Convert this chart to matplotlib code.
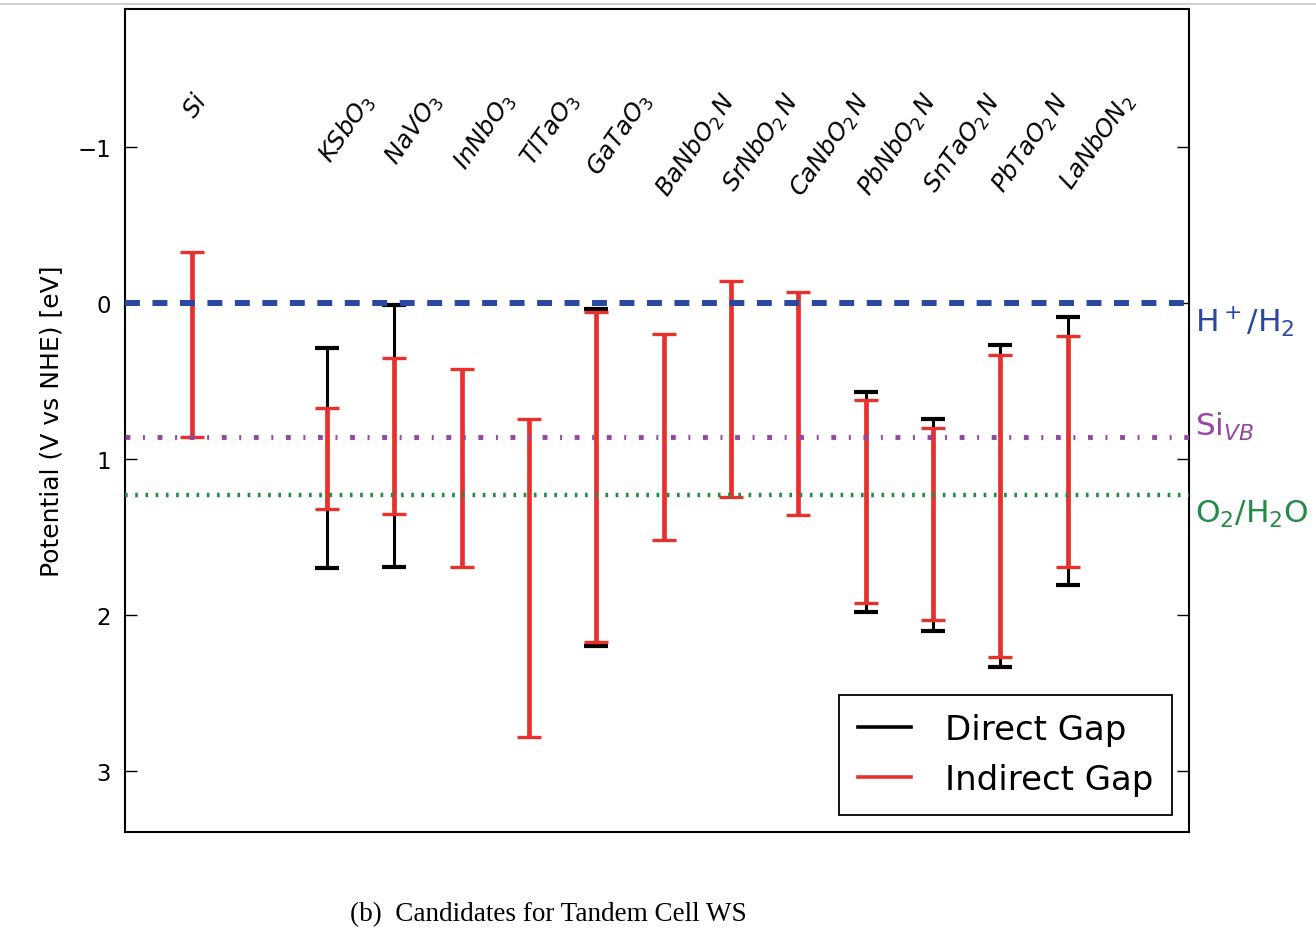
import numpy as np
import matplotlib
matplotlib.use('Agg')
import matplotlib.pyplot as plt
from matplotlib.lines import Line2D

# band edges vs NHE (eV), top = conduction band, bottom = valence band
compounds = ['$Si$', '$KSbO_3$', '$NaVO_3$', '$InNbO_3$', '$TlTaO_3$', '$GaTaO_3$',
             '$BaNbO_2\\,N$', '$SrNbO_2\\,N$', '$CaNbO_2\\,N$', '$PbNbO_2\\,N$',
             '$SnTaO_2\\,N$', '$PbTaO_2\\,N$', '$LaNbON_2$']
indirect_top = [-0.33, 0.67, 0.35, 0.42, 0.74, 0.06, 0.20, -0.14, -0.07, 0.62, 0.80, 0.33, 0.21]
indirect_bot = [0.86, 1.32, 1.35, 1.69, 2.78, 2.17, 1.52, 1.24, 1.36, 1.92, 2.03, 2.27, 1.69]
direct_top = [np.nan, 0.29, 0.01, np.nan, np.nan, 0.04, np.nan, np.nan, np.nan, 0.57, 0.74, 0.27, 0.09]
direct_bot = [np.nan, 1.70, 1.69, np.nan, np.nan, 2.20, np.nan, np.nan, np.nan, 1.98, 2.10, 2.33, 1.81]

# reference levels
h2_level = 0.0
si_vb = 0.86
o2_level = 1.23

red = '#e8302c'
blue = '#2a48a0'
purple = '#93479f'
green = '#248a46'

# Si first, then leave one empty slot before the candidates
pos = np.array([0] + list(range(2, 2 + len(compounds) - 1)))

fig = plt.figure(figsize=(13.16, 9.37), dpi=100)
ax = fig.add_axes([0.095, 0.111, 0.8085, 0.8783])

it, ib = np.array(indirect_top), np.array(indirect_bot)
dt, db = np.array(direct_top), np.array(direct_bot)
m = ~np.isnan(dt)

ax.errorbar(pos[m], (dt[m] + db[m]) / 2, yerr=(db[m] - dt[m]) / 2, fmt='none',
            ecolor='k', elinewidth=2.2, capsize=8.6, capthick=3.0, zorder=3)
ax.errorbar(pos, (it + ib) / 2, yerr=(ib - it) / 2, fmt='none',
            ecolor=red, elinewidth=3.4, capsize=8.6, capthick=2.4, zorder=4)

ax.axhline(h2_level, color=blue, lw=4.3, dashes=(2.5, 2.1), zorder=5)
ax.axhline(si_vb, color=purple, lw=3.5, dashes=(1.0, 2.6, 0.4, 2.6), zorder=5)
ax.axhline(o2_level, color=green, lw=3.2, dashes=(0.6, 1.7), zorder=5)

tr = ax.get_yaxis_transform()
ax.text(1.006, 0.115, '$\\mathrm{H}^+/\\mathrm{H}_2$', transform=tr, color=blue,
        fontsize=22.5, va='center', ha='left')
ax.text(1.006, 0.79, '$\\mathrm{Si}_{VB}$', transform=tr, color=purple,
        fontsize=22.5, va='center', ha='left')
ax.text(1.006, 1.35, '$\\mathrm{O}_2/\\mathrm{H}_2\\mathrm{O}$', transform=tr, color=green,
        fontsize=22.5, va='center', ha='left')

for x, name in zip(pos, compounds):
    ax.text(x - 0.2, -1.38, name, rotation=55, ha='left', va='top', fontsize=17.5)

ax.set_xlim(-1, 14.8)
ax.set_ylim(3.39, -1.885)
ax.set_xticks([])
ax.set_yticks([-1, 0, 1, 2, 3])
ax.tick_params(axis='y', direction='in', right=True, length=8.5, width=1.0,
               labelsize=16.5, pad=10)
for sp in ax.spines.values():
    sp.set_linewidth(1.5)
ax.set_ylabel('Potential (V vs NHE) [eV]', fontsize=18, labelpad=10)

handles = [Line2D([], [], color='k', lw=2.6), Line2D([], [], color=red, lw=2.6)]
leg = ax.legend(handles, ['Direct Gap', 'Indirect Gap'], loc='lower right',
                fontsize=24.5, fancybox=False, framealpha=1, edgecolor='k',
                borderpad=0.55, handlelength=1.55, handletextpad=1.0,
                labelspacing=0.5, borderaxespad=0.5)
leg.get_frame().set_linewidth(1.3)

fig.text(0.417, 0.024, '(b)  Candidates for Tandem Cell WS', family='Liberation Serif',
         fontsize=19.5, ha='center', va='center')
fig.add_artist(Line2D([0, 1], [0.995, 0.995], color='#d0d0d0', lw=1.5))

fig.savefig('out.png', dpi=100)
